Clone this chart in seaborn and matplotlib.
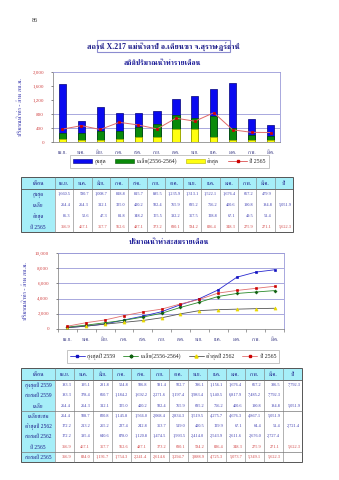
import matplotlib
matplotlib.use('Agg')
import numpy as np
import pandas as pd
import seaborn as sns
import matplotlib.pyplot as plt
from matplotlib import font_manager as fm
from matplotlib.ft2font import FT2Font
from matplotlib.lines import Line2D
from matplotlib.patches import Patch, Rectangle
from matplotlib.ticker import FuncFormatter

# ---------------- data ----------------
months = ['เม.ย.', 'พ.ค.', 'มิ.ย.', 'ก.ค.', 'ส.ค.', 'ก.ย.',
          'ต.ค.', 'พ.ย.', 'ธ.ค.', 'ม.ค.', 'ก.พ.', 'มี.ค.']

max_vals = [1660.5, 590.7, 1008.7, 818.8, 815.7, 895.5, 1235.9, 1313.1, 1522.1, 1676.4, 667.2, 479.9]
avg_vals = [254.4, 254.3, 312.1, 325.0, 420.2, 502.4, 765.9, 685.2, 756.2, 400.6, 190.8, 184.8]
min_vals = [86.3, 52.6, 47.3, 81.8, 148.2, 155.5, 382.2, 357.5, 128.8, 67.1, 49.5, 51.4]
y2565_vals = [366.9, 467.1, 357.7, 562.6, 487.1, 373.2, 680.1, 594.2, 836.4, 348.3, 275.9, 271.1]
avg_total = '5,051.9'
y2565_total = '5,622.3'

max2559_vals = [183.3, 195.1, 281.8, 524.8, 506.8, 581.4, 922.7, 786.1, 1156.1, 1676.4, 667.2, 306.5]
cum2559_vals = [183.3, 378.4, 660.7, 1184.2, 1692.2, 2271.6, 3197.4, 3983.4, 5140.5, 6817.9, 7485.2, 7792.3]
avgcum_vals = [254.4, 508.7, 820.8, 1145.8, 1566.0, 2068.4, 2834.3, 3519.5, 4275.7, 4676.3, 4867.1, 5051.9]
min2562_vals = [172.2, 213.2, 255.2, 237.4, 242.8, 353.7, 519.0, 420.5, 129.9, 67.1, 64.4, 51.4]
cum2562_vals = [172.2, 385.4, 640.6, 878.0, 1120.8, 1474.5, 1993.5, 2414.0, 2543.9, 2611.6, 2676.0, 2727.4]
cum2565_vals = [366.9, 834.0, 1191.7, 1754.3, 2241.4, 2614.6, 3294.7, 3888.9, 4725.3, 5073.7, 5349.1, 5622.3]
max2559_total = '7,792.3'
min2562_total = '2,721.4'

title_text = 'สถานี X.217 แม่น้ำตาปี อ.เคียนซา จ.สุราษฎร์ธานี'
sub1 = 'สถิติปริมาณน้ำท่ารายเดือน'
sub2 = 'ปริมาณน้ำท่าสะสมรายเดือน'
ylabel = 'ปริมาณน้ำท่า - ล้าน ลบ.ม.'
legend1 = ['สูงสุด', 'เฉลี่ย(2556-2564)', 'ต่ำสุด', 'ปี 2565']
legend2 = ['สูงสุดปี 2559', 'เฉลี่ย(2556-2564)', 'ต่ำสุดปี 2562', 'ปี 2565']
head_first = 'เดือน'
head_year = 'ปี'
t1_labels = ['สูงสุด', 'เฉลี่ย', 'ต่ำสุด', 'ปี 2565']
t2_labels = ['สูงสุดปี 2559', 'สะสมปี 2559', 'เฉลี่ย', 'เฉลี่ยสะสม',
             'ต่ำสุดปี 2562', 'สะสมปี 2562', 'ปี 2565', 'สะสมปี 2565']


# ---------------- fonts ----------------
def find_thai():
    prefs = ['Norasi', 'Kinnari', 'FreeSerif', 'Noto Serif Thai', 'Sarabun', 'Garuda',
             'Loma', 'Noto Sans Thai', 'Waree', 'Umpush', 'Tlwg Typo', 'FreeSans', 'DejaVu Sans']
    found = {}
    for f in fm.fontManager.ttflist:
        try:
            cm = FT2Font(f.fname).get_charmap()
            if 0x0E01 in cm and 0x0E2A in cm and 0x0E48 in cm:
                found.setdefault(f.name, f.fname)
        except Exception:
            pass
    for p in prefs:
        if p in found:
            return p
    return next(iter(found), None)


sns.set_theme(style='white')
thai = find_thai()
fam = ['Liberation Serif'] + ([thai] if thai else []) + ['DejaVu Sans']
plt.rcParams['font.family'] = fam

W, H = 339, 480
fig = plt.figure(figsize=(W / 100, H / 100), dpi=100)
fig.patch.set_facecolor('white')


def axrect(l, t, r, b):
    return [l / W, 1 - b / H, (r - l) / W, (b - t) / H]


ov = fig.add_axes([0, 0, 1, 1])
ov.set_xlim(0, W)
ov.set_ylim(H, 0)
ov.axis('off')

BLUE_TXT = '#2a2aa8'
RED_TXT = '#d04040'
LAV = '#9a9ad8'

# page number, title, subtitles
ov.text(35, 20, '86', fontsize=4.5, color='#333333', ha='center', va='center')
ov.add_patch(Rectangle((97, 40), 133, 12, fill=False, ec='#8c8cd0', lw=0.8))
ov.text(163.5, 46, title_text, fontsize=5.6, color='#1c1c88', weight='bold', ha='center', va='center')
ov.text(162, 63, sub1, fontsize=5.2, color='#1c1c98', weight='bold', ha='center', va='center')
ov.text(169, 241.5, sub2, fontsize=5.2, color='#1c1c98', weight='bold', ha='center', va='center')

fmt = FuncFormatter(lambda v, p: f'{int(v):,}')

# ---------------- bar chart ----------------
df1 = pd.DataFrame({'month': months, 'max': max_vals, 'avg': avg_vals,
                    'min': min_vals, 'y2565': y2565_vals})
ax1 = fig.add_axes(axrect(53, 72, 280, 142))
for col, c, ec in [('max', '#0a0af0', '#00007a'), ('avg', '#0a8a0a', '#005000'), ('min', '#ffff10', '#b0b000')]:
    sns.barplot(data=df1, x='month', y=col, color=c, edgecolor=ec, linewidth=0.5,
                width=0.38, saturation=1, errorbar=None, ax=ax1)
sns.pointplot(data=df1, x='month', y='y2565', color='#e06868', markers='s',
              markersize=2.0, linewidth=0.7, errorbar=None, ax=ax1)
for ln in ax1.lines:
    ln.set_markerfacecolor('#cc0000')
    ln.set_markeredgecolor('#cc0000')
    ln.set_zorder(5)
ax1.set_xlim(-0.5, 11.5)
ax1.set_ylim(0, 2000)
ax1.set_yticks(range(0, 2001, 400))
ax1.yaxis.set_major_formatter(fmt)
ax1.set_axisbelow(True)
ax1.yaxis.grid(True, color=LAV, lw=0.6)
for g, v in zip(ax1.get_ygridlines(), range(0, 2001, 400)):
    if v > 800 or v == 0:
        g.set_visible(False)
ax1.set_xlabel('')
ax1.set_ylabel(ylabel, fontsize=4.5, color=BLUE_TXT, labelpad=7)
ax1.tick_params(axis='y', labelsize=3.6, labelcolor=RED_TXT, length=1.5, width=0.4, pad=5, left=True)
ax1.tick_params(axis='x', labelsize=3.8, labelcolor='#333380', length=0, pad=8.5)
for s in ['top', 'right']:
    ax1.spines[s].set_color(LAV)
    ax1.spines[s].set_linewidth(0.6)
for s in ['left', 'bottom']:
    ax1.spines[s].set_color('#777777')
    ax1.spines[s].set_linewidth(0.5)

h1 = [Patch(facecolor='#0a0af0', edgecolor='#00007a', lw=0.4),
      Patch(facecolor='#0a8a0a', edgecolor='#005000', lw=0.4),
      Patch(facecolor='#ffff10', edgecolor='#b0b000', lw=0.4),
      Line2D([], [], color='#e06868', lw=0.7, marker='s', ms=2.0, mfc='#cc0000', mec='#cc0000')]
lg1 = ax1.legend(h1, legend1, loc='center', bbox_to_anchor=((90 + 249) / 2 / W, 1 - 161.5 / H),
                 bbox_transform=fig.transFigure, ncol=4, fontsize=4.2, frameon=True, fancybox=False,
                 edgecolor='#999999', handlelength=3.2, handleheight=0.9, columnspacing=1.6,
                 borderpad=0.5, handletextpad=0.4)
lg1.get_frame().set_linewidth(0.5)

# ---------------- cumulative line chart ----------------
df2 = pd.DataFrame({'month': months, 'c2559': cum2559_vals, 'cavg': avgcum_vals,
                    'c2562': cum2562_vals, 'c2565': cum2565_vals})
ax2 = fig.add_axes(axrect(58, 253, 284, 329))
styles = [('c2559', '#2a2ad0', 's', '#1010c0', 1.8),
          ('cavg', '#2a8a2a', 'P', '#106010', 2.0),
          ('c2562', '#555555', '^', '#e8d800', 2.2),
          ('c2565', '#e07070', 's', '#cc0000', 1.8)]
for col, lc, mk, mc, ms in styles:
    sns.pointplot(data=df2, x='month', y=col, color=lc, markers=mk, markersize=ms,
                  linewidth=0.6, errorbar=None, ax=ax2)
    ln = ax2.lines[-1]
    ln.set_markerfacecolor(mc)
    ln.set_markeredgecolor(mc)
ax2.set_xlim(-0.5, 11.5)
ax2.set_ylim(0, 10000)
ax2.set_yticks(range(0, 10001, 2000))
ax2.yaxis.set_major_formatter(fmt)
ax2.set_axisbelow(True)
ax2.yaxis.grid(True, color=LAV, lw=0.6)
ax2.set_xticks(np.arange(-0.5, 12, 1), minor=True)
ax2.set_xlabel('')
ax2.set_ylabel(ylabel, fontsize=4.5, color=BLUE_TXT, labelpad=5)
ax2.tick_params(axis='y', labelsize=3.6, labelcolor=RED_TXT, length=1.5, width=0.4, pad=5, left=True)
ax2.tick_params(axis='x', which='major', labelsize=3.8, labelcolor='#333380', length=0, pad=8.5)
ax2.tick_params(axis='x', which='minor', length=2, width=0.4, bottom=True, color='#555555')
for s in ['top', 'right']:
    ax2.spines[s].set_color(LAV)
    ax2.spines[s].set_linewidth(0.6)
for s in ['left', 'bottom']:
    ax2.spines[s].set_color('#777777')
    ax2.spines[s].set_linewidth(0.5)

h2 = [Line2D([], [], color=lc, lw=0.6, marker=mk, ms=ms, mfc=mc, mec=mc) for _, lc, mk, mc, ms in styles]
lg2 = ax2.legend(h2, legend2, loc='center', bbox_to_anchor=((86 + 260) / 2 / W, 1 - 356.5 / H),
                 bbox_transform=fig.transFigure, ncol=4, fontsize=4.2, frameon=True, fancybox=False,
                 edgecolor='#999999', handlelength=2.6, columnspacing=1.3, borderpad=0.5,
                 handletextpad=0.4)
lg2.get_frame().set_linewidth(0.5)

# ---------------- tables ----------------
CYAN = '#a6eef8'


def fmtv(v):
    return f'{v:,.1f}'


def draw_table(x0, x_first, x_end, y_head_top, y_head_bot, y_end, row_labels, row_data,
               row_colors, year_vals, hlines_after):
    ncol = 13
    cw = (x_end - x_first) / ncol
    nrows = len(row_labels)
    rh = (y_end - y_head_bot) / nrows
    ov.add_patch(Rectangle((x0, y_head_top), x_end - x0, y_head_bot - y_head_top, fc=CYAN, ec='none'))
    ov.add_patch(Rectangle((x0, y_head_bot), x_first - x0, y_end - y_head_bot, fc=CYAN, ec='none'))
    ov.add_patch(Rectangle((x0, y_head_top), x_end - x0, y_end - y_head_top, fill=False, ec='#555555', lw=0.7))
    ov.plot([x0, x_end], [y_head_bot, y_head_bot], color='#555555', lw=0.6)
    for k in range(ncol):
        xx = x_first + k * cw
        ov.plot([xx, xx], [y_head_top, y_end], color='#777777', lw=0.4)
    for r in hlines_after:
        yy = y_head_bot + (r + 1) * rh
        ov.plot([x0, x_end], [yy, yy], color='#777777', lw=0.5)
    yh = (y_head_top + y_head_bot) / 2 + 2
    ov.text((x0 + x_first) / 2, yh, head_first, fontsize=4.3, color='#1c1c88', ha='center', va='baseline')
    for k, m in enumerate(months):
        ov.text(x_first + (k + 0.5) * cw, yh, m, fontsize=4.0, color='#1c1c88', ha='center', va='baseline')
    ov.text(x_first + 12.5 * cw, yh, head_year, fontsize=4.3, color='#1c1c88', ha='center', va='baseline')
    for i, (lab, vals, col, yv) in enumerate(zip(row_labels, row_data, row_colors, year_vals)):
        yc = y_head_bot + (i + 0.5) * rh
        ov.text((x0 + x_first) / 2, yc + 2, lab, fontsize=4.0, color='#1c1c88', ha='center', va='baseline')
        for k, v in enumerate(vals):
            ov.text(x_first + (k + 0.85) * cw, yc, fmtv(v), fontsize=3.1, color=col, ha='right', va='center')
        if yv:
            ov.text(x_first + 12.9 * cw, yc, yv, fontsize=3.1, color=col, ha='right', va='center')


draw_table(21, 55, 293, 177, 188.5, 232, t1_labels,
           [max_vals, avg_vals, min_vals, y2565_vals],
           ['#3a3ab0', '#3a3ab0', '#3a3ab0', RED_TXT],
           ['', avg_total, '', y2565_total], [])

draw_table(21, 55, 302, 368, 380, 462, t2_labels,
           [max2559_vals, cum2559_vals, avg_vals, avgcum_vals, min2562_vals, cum2562_vals,
            y2565_vals, cum2565_vals],
           ['#3a3ab0'] * 6 + [RED_TXT, RED_TXT],
           [max2559_total, '', avg_total, '', min2562_total, '', y2565_total, ''], [2, 6])

# align month tick labels on their baseline (upper Thai vowels otherwise shift them)
for a in (ax1, ax2):
    plt.setp(a.get_xticklabels(), va='baseline')

fig.savefig('out.png', dpi=100, facecolor='white')
